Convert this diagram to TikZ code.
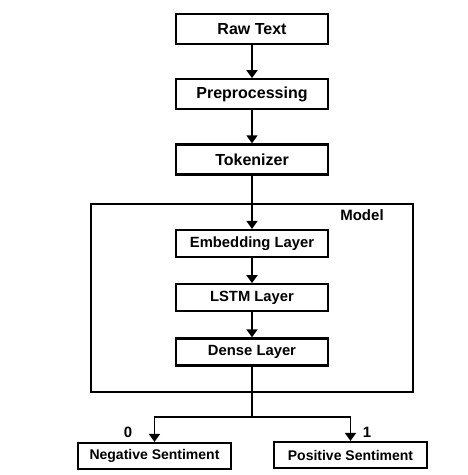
\documentclass[tikz,border=0pt]{standalone}
\usepackage{fontspec}
\setmainfont{Liberation Sans}
\usetikzlibrary{positioning,arrows.meta,calc}

\begin{document}
\begin{tikzpicture}[x=1pt,y=-1pt,node distance=33pt,font=\bfseries\fontsize{15}{17}\selectfont,
  box/.style={draw,line width=2.2pt,minimum width=152pt,minimum height=30pt,inner sep=0pt,font=\bfseries\fontsize{16}{18}\selectfont},
  inbox/.style={box,minimum height=27pt,font=\bfseries\fontsize{14.8}{16}\selectfont},
  outbox/.style={box,minimum width=153pt,minimum height=26pt,font=\bfseries\fontsize{14}{15}\selectfont},
  arr/.style={-{Triangle[width=11pt,length=8pt]},line width=1.8pt}]
\useasboundingbox (0,0) rectangle (467,475);
\node[box] (raw) at (252,29) {Raw Text};
\node[box,below=of raw] (pre) {Preprocessing};
\node[box,below=of pre] (tok) {Tokenizer};
\node[draw,line width=2.2pt,minimum width=322pt,minimum height=188pt] (model) at (252,298) {};
\node (mlabel) at (362,215) {Model};
\node[inbox] (emb) at (252,243.5) {Embedding Layer};
\node[inbox,below=25pt of emb] (lstm) {LSTM Layer};
\node[inbox,below=25pt of lstm] (dense) {Dense Layer};
\node[outbox] (neg) at (154.5,456) {Negative Sentiment};
\node[outbox] (pos) at (350.5,455) {Positive Sentiment};
\coordinate (split) at (252,417);
\draw[arr] (raw) -- (pre);
\draw[arr] (pre) -- (tok);
\draw[arr] (tok) -- (emb);
\draw[arr] (emb) -- (lstm);
\draw[arr] (lstm) -- (dense);
\draw[line width=1.8pt] (dense) -- (split);
\draw[arr] (split) -| (neg);
\draw[arr] (split) -| (pos);
\node (zero) at (128,432) {0};
\node (one) at (367,432) {1};
\end{tikzpicture}
\end{document}
